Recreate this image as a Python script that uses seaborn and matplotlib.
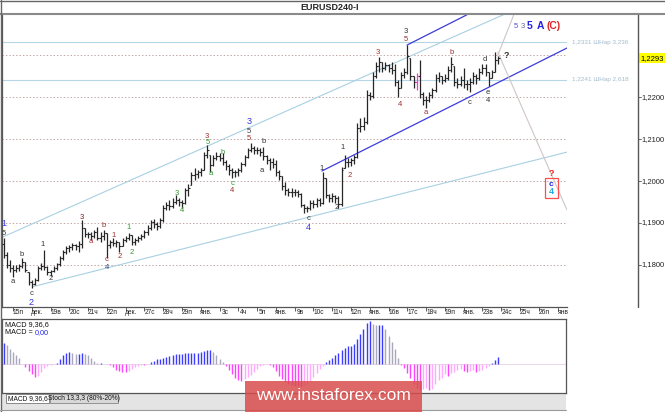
import numpy as np
import pandas as pd
import matplotlib
matplotlib.use("Agg")
import matplotlib.pyplot as plt
import matplotlib.transforms as mtrans
from matplotlib.lines import Line2D
from matplotlib.patches import Rectangle
import seaborn as sns

# 4h bars EURUSD
first_open = 1.1850
highs = [1.1864, 1.1831, 1.1812, 1.1800, 1.1800, 1.1802, 1.1817, 1.1807, 1.1783, 1.1764,
         1.1769, 1.1798, 1.1805, 1.1836, 1.1798, 1.1788, 1.1798, 1.1805, 1.1822, 1.1836,
         1.1845, 1.1848, 1.1852, 1.1850, 1.1857, 1.1907, 1.1888, 1.1879, 1.1879, 1.1883,
         1.1891, 1.1879, 1.1883, 1.1876, 1.1860, 1.1864, 1.1860, 1.1855, 1.1864, 1.1869,
         1.1876, 1.1871, 1.1864, 1.1869, 1.1874, 1.1883, 1.1895, 1.1907, 1.1910, 1.1903,
         1.1912, 1.1943, 1.1950, 1.1955, 1.1960, 1.1967, 1.1960, 1.1955, 1.1983, 1.1993,
         1.2021, 1.2031, 1.2026, 1.2031, 1.2069, 1.2086, 1.2062, 1.2062, 1.2069, 1.2067,
         1.2067, 1.2050, 1.2041, 1.2031, 1.2026, 1.2031, 1.2045, 1.2062, 1.2079, 1.2091,
         1.2083, 1.2081, 1.2079, 1.2081, 1.2062, 1.2055, 1.2055, 1.2050, 1.2026, 1.2012,
         1.1998, 1.1983, 1.1983, 1.1981, 1.1979, 1.1971, 1.1945, 1.1940, 1.1955, 1.1955,
         1.1960, 1.1960, 1.2021, 1.2007, 1.1969, 1.1971, 1.1967, 1.1964, 1.2033, 1.2062,
         1.2055, 1.2055, 1.2062, 1.2138, 1.2150, 1.2152, 1.2217, 1.2212, 1.2260, 1.2283,
         1.2295, 1.2283, 1.2283, 1.2279, 1.2283, 1.2279, 1.2241, 1.2260, 1.2269, 1.2324,
         1.2293, 1.2250, 1.2257, 1.2288, 1.2212, 1.2202, 1.2212, 1.2221, 1.2255, 1.2260,
         1.2250, 1.2255, 1.2274, 1.2295, 1.2274, 1.2245, 1.2250, 1.2269, 1.2241, 1.2245,
         1.2260, 1.2255, 1.2269, 1.2279, 1.2279, 1.2260, 1.2264, 1.2307, 1.2298]
lows = [1.1817, 1.1793, 1.1783, 1.1771, 1.1783, 1.1786, 1.1793, 1.1783, 1.1752, 1.1745,
        1.1752, 1.1762, 1.1788, 1.1788, 1.1776, 1.1774, 1.1783, 1.1788, 1.1798, 1.1812,
        1.1826, 1.1831, 1.1836, 1.1836, 1.1831, 1.1841, 1.1867, 1.1864, 1.1860, 1.1864,
        1.1860, 1.1855, 1.1860, 1.1817, 1.1841, 1.1845, 1.1843, 1.1831, 1.1845, 1.1855,
        1.1860, 1.1848, 1.1848, 1.1855, 1.1860, 1.1864, 1.1871, 1.1883, 1.1888, 1.1883,
        1.1888, 1.1903, 1.1931, 1.1931, 1.1936, 1.1945, 1.1940, 1.1936, 1.1945, 1.1964,
        1.1990, 1.2002, 1.2007, 1.2012, 1.2026, 1.2055, 1.2021, 1.2036, 1.2050, 1.2048,
        1.2038, 1.2026, 1.2014, 1.2007, 1.2010, 1.2012, 1.2021, 1.2036, 1.2055, 1.2069,
        1.2064, 1.2064, 1.2060, 1.2050, 1.2041, 1.2026, 1.2031, 1.2012, 1.2002, 1.1979,
        1.1967, 1.1964, 1.1962, 1.1964, 1.1962, 1.1938, 1.1924, 1.1926, 1.1931, 1.1936,
        1.1938, 1.1940, 1.1945, 1.1960, 1.1950, 1.1950, 1.1948, 1.1936, 1.1940, 1.2031,
        1.2033, 1.2036, 1.2041, 1.2055, 1.2117, 1.2121, 1.2136, 1.2193, 1.2198, 1.2245,
        1.2260, 1.2260, 1.2264, 1.2260, 1.2255, 1.2226, 1.2200, 1.2221, 1.2245, 1.2255,
        1.2241, 1.2221, 1.2217, 1.2198, 1.2181, 1.2174, 1.2188, 1.2198, 1.2212, 1.2236,
        1.2231, 1.2236, 1.2241, 1.2260, 1.2226, 1.2221, 1.2226, 1.2221, 1.2217, 1.2212,
        1.2231, 1.2231, 1.2241, 1.2255, 1.2250, 1.2226, 1.2245, 1.2260, 1.2279]
closes = [1.1824, 1.1800, 1.1793, 1.1788, 1.1793, 1.1798, 1.1807, 1.1788, 1.1760, 1.1755,
          1.1764, 1.1793, 1.1798, 1.1795, 1.1783, 1.1786, 1.1793, 1.1802, 1.1817, 1.1831,
          1.1841, 1.1843, 1.1848, 1.1845, 1.1850, 1.1888, 1.1874, 1.1874, 1.1869, 1.1879,
          1.1864, 1.1869, 1.1876, 1.1848, 1.1855, 1.1852, 1.1855, 1.1845, 1.1860, 1.1864,
          1.1871, 1.1855, 1.1860, 1.1864, 1.1869, 1.1879, 1.1888, 1.1903, 1.1898, 1.1893,
          1.1907, 1.1936, 1.1943, 1.1940, 1.1950, 1.1955, 1.1950, 1.1948, 1.1979, 1.1983,
          1.2014, 1.2017, 1.2021, 1.2026, 1.2062, 1.2074, 1.2038, 1.2055, 1.2060, 1.2055,
          1.2045, 1.2036, 1.2026, 1.2021, 1.2021, 1.2026, 1.2041, 1.2057, 1.2074, 1.2079,
          1.2074, 1.2074, 1.2069, 1.2060, 1.2050, 1.2045, 1.2041, 1.2021, 1.2012, 1.1988,
          1.1979, 1.1974, 1.1974, 1.1974, 1.1969, 1.1943, 1.1936, 1.1936, 1.1948, 1.1945,
          1.1955, 1.1948, 1.2007, 1.1967, 1.1960, 1.1964, 1.1960, 1.1945, 1.2026, 1.2045,
          1.2045, 1.2050, 1.2057, 1.2126, 1.2131, 1.2141, 1.2205, 1.2202, 1.2250, 1.2274,
          1.2283, 1.2269, 1.2276, 1.2269, 1.2264, 1.2236, 1.2221, 1.2252, 1.2260, 1.2298,
          1.2250, 1.2236, 1.2250, 1.2207, 1.2193, 1.2193, 1.2205, 1.2217, 1.2245, 1.2250,
          1.2241, 1.2245, 1.2264, 1.2279, 1.2236, 1.2231, 1.2241, 1.2231, 1.2231, 1.2236,
          1.2250, 1.2245, 1.2260, 1.2269, 1.2260, 1.2245, 1.2260, 1.2288, 1.2293]
highlight_bar = 132  # the magenta bar

# MACD 9,36,6 histogram, in points (0.0001)
macd_points = [21, 19, 15, 12, 9, 6, 0, -3, -7, -10,
               -13, -12, -8, -4, -2, -1, 0, 1, 5, 9,
               11, 12, 11, 10, 10, 11, 10, 9, 6, 3,
               1, 1, 0, 0, -1, -3, -6, -7, -8, -8,
               -7, -5, -3, -2, -1, -1, 0, 2, 3, 5,
               5, 6, 7, 8, 9, 10, 10, 10, 11, 11,
               11, 11, 11, 12, 13, 14, 14, 12, 9, 5,
               2, -2, -6, -10, -14, -16, -17, -15, -13, -11,
               -8, -5, -2, -1, 0, -1, -3, -7, -12, -15,
               -18, -20, -21, -22, -22, -22, -21, -20, -17, -13,
               -9, -5, -2, 2, 4, 6, 9, 11, 14, 16,
               18, 18, 20, 25, 30, 35, 41, 43, 40, 39,
               39, 39, 35, 28, 22, 15, 6, -1, -4, -9,
               -14, -20, -24, -26, -25, -24, -26, -25, -20, -16,
               -14, -10, -12, -9, -8, -6, -5, -7, -8, -7,
               -6, -8, -7, -6, -4, -2, 1, 4, 7]

date_labels = ["15п", "дек.", "19в", "20с", "21ч", "22п", "дек.", "27с", "28ч", "29п",
               "янв.", "3с", "4ч", "5п", "янв.", "9в", "10с", "11ч", "12п", "янв.",
               "16в", "17с", "18ч", "19п", "янв.", "23в", "24с", "25ч", "26п", "янв"]
price_ticks = [1.18, 1.19, 1.20, 1.21, 1.22, 1.23]
scale_labels = [1.18, 1.19, 1.20, 1.21, 1.22]  # 1,2300 sits under the price box
last_price = 1.2293
fibo_levels = [1.2331, 1.2241]
fibo_texts = ["1,2331 ШНар 3,236", "1,2241 ШНар 2,618"]

# trend lines: (x0, y0, x1, y1) in bar index / price
light_channel = [(-0.2, 1.1867, 160.2, 1.2398), (9.1, 1.1748, 180.0, 1.2069)]
blue_channel = [(101.7, 1.2024, 180.0, 1.2317), (128.9, 1.2324, 148.0, 1.2396)]
gray_lines = [(157.9, 1.2307, 180.0, 1.1931), (157.9, 1.2300, 163.1, 1.2398)]

BLUE = "#3535e0"
RED = "#a03030"
GREEN = "#2e9a2e"
DARK = "#333333"
wave_labels = [
    (0.0, 1.1900, "1", BLUE, 6.5), (0.0, 1.1876, "5", DARK, 5.5),
    (3.0, 1.1760, "a", DARK, 5.5), (5.9, 1.1824, "b", DARK, 5.5),
    (8.8, 1.1733, "c", DARK, 5.5), (8.8, 1.1711, "2", BLUE, 6.5),
    (12.6, 1.1848, "1", DARK, 5.5), (15.1, 1.1767, "2", DARK, 5.5),
    (25.0, 1.1914, "3", "#772222", 5.5), (28.0, 1.1855, "a", RED, 5.5),
    (32.0, 1.1895, "b", RED, 5.5), (33.0, 1.1812, "c", RED, 5.5),
    (33.0, 1.1793, "4", "#334477", 5.5), (35.0, 1.1871, "1", RED, 5.5),
    (37.0, 1.1821, "2", RED, 5.5), (40.0, 1.1890, "1", GREEN, 5.5),
    (41.0, 1.1831, "2", GREEN, 5.5), (55.4, 1.1971, "3", GREEN, 5.5),
    (57.0, 1.1931, "4", GREEN, 5.5), (65.0, 1.2107, "3", RED, 5.5),
    (65.3, 1.2091, "5", GREEN, 5.5), (66.3, 1.2019, "a", GREEN, 5.5),
    (70.0, 1.2069, "b", GREEN, 5.5), (73.0, 1.1995, "c", GREEN, 5.5),
    (73.0, 1.1978, "4", RED, 5.5), (78.4, 1.2141, "3", BLUE, 6.5),
    (78.4, 1.2118, "5", DARK, 5.5), (78.4, 1.2101, "5", RED, 5.5),
    (83.0, 1.2095, "b", DARK, 5.5), (82.6, 1.2026, "a", DARK, 5.5),
    (97.3, 1.1912, "c", DARK, 5.5), (97.3, 1.1889, "4", BLUE, 6.5),
    (101.7, 1.2031, "1", DARK, 5.5), (106.5, 1.1936, "2", DARK, 5.5),
    (108.4, 1.2079, "1", DARK, 5.5), (110.7, 1.2014, "2", RED, 5.5),
    (119.6, 1.2307, "3", RED, 5.5), (126.7, 1.2183, "4", RED, 5.5),
    (128.6, 1.2356, "3", DARK, 5.5), (128.6, 1.2338, "5", RED, 5.5),
    (135.0, 1.2164, "a", RED, 5.5), (143.0, 1.2307, "b", RED, 5.5),
    (149.0, 1.2188, "c", DARK, 5.5), (153.8, 1.2290, "d", DARK, 5.5),
    (154.8, 1.2212, "e", DARK, 5.5), (154.8, 1.2193, "4", DARK, 5.5),
]

sns.set_theme(style="white")
plt.rcParams['font.family'] = ['Liberation Sans', 'DejaVu Sans']

W, H = 665, 412
def fx(x):
    return x / W
def fy(y):
    return 1 - y / H

fig = plt.figure(figsize=(6.65, 4.12), dpi=100)
fig.patch.set_facecolor("white")

ax = fig.add_axes([fx(2), fy(307), 565 / W, 293 / H])
ax.set_xlim(-0.5, 180)
ax.set_ylim(1.1700, 1.2398)
ax.set_facecolor("white")

n = len(closes)
idx = np.arange(n)
opens = np.clip([first_open] + closes[:-1], lows, highs)
bars = pd.DataFrame({"i": idx, "o": opens, "h": highs, "l": lows, "c": closes})

# grid
for lev in price_ticks:
    ax.axhline(lev, color="#c4a8a8", ls=(0, (1.5, 2)), lw=0.7, zorder=1)
for lev in fibo_levels:
    ax.axhline(lev, color="#b4d6e6", lw=0.8, zorder=1)

# trend lines
for x0, y0, x1, y1 in light_channel:
    sns.lineplot(x=[x0, x1], y=[y0, y1], ax=ax, color="#a8d0e2", lw=0.8, zorder=2)
for x0, y0, x1, y1 in blue_channel:
    sns.lineplot(x=[x0, x1], y=[y0, y1], ax=ax, color="#3c3cdc", lw=0.9, zorder=2)
for x0, y0, x1, y1 in gray_lines:
    sns.lineplot(x=[x0, x1], y=[y0, y1], ax=ax, color="#cfc6c6", lw=0.8, zorder=2)

# OHLC bars
colors = ["#ff33cc" if i == highlight_bar else "#262626" for i in idx]
ax.vlines(bars["i"], bars["l"], bars["h"], colors=colors, lw=0.9, zorder=3)
ax.hlines(bars["o"], bars["i"] - 0.5, bars["i"], colors=colors, lw=0.8, zorder=3)
ax.hlines(bars["c"], bars["i"], bars["i"] + 0.5, colors=colors, lw=0.8, zorder=3)

for x, y, t, c, s in wave_labels:
    ax.text(x, y, t, color=c, fontsize=s, ha="center", va="center", zorder=4)
ax.text(160.5, 1.2298, "?", color="#333333", fontsize=6.5, weight="bold", ha="center", va="center")

# target box
ax.add_patch(Rectangle((173.0, 1.1960), 4.1, 0.0047, fill=False, ec="#ff4d4d", lw=0.9, zorder=4))
ax.text(175.0, 1.2018, "?", color="#ff2020", fontsize=6.5, weight="bold", ha="center", va="center")
ax.text(175.0, 1.1993, "c", color="#2020e0", fontsize=6, weight="bold", ha="center", va="center")
ax.text(175.0, 1.1975, "4", color="#22aadd", fontsize=6.5, weight="bold", ha="center", va="center")

# top wave label
ax.text(163.7, 1.2369, "5", color="#5050dd", fontsize=5.5, ha="center", va="center")
ax.text(166.0, 1.2369, "3", color="#6a6a99", fontsize=5.5, ha="center", va="center")
ax.text(168.0, 1.2369, "5", color="#2525dd", fontsize=7.5, weight="bold", ha="center", va="center")
ax.text(171.4, 1.2369, "A", color="#2525dd", fontsize=7.5, weight="bold", ha="center", va="center")
ax.text(175.8, 1.2369, "(C)", color="#dd2525", fontsize=7.5, weight="bold", ha="center", va="center")

# axes look
ax.set_yticks([])
tick_pos = [3 + 6 * k for k in range(len(date_labels))]
ax.set_xticks(tick_pos)
ax.set_xticklabels([])
ax.tick_params(axis="x", length=3, width=0.6, color="#444444", direction="out", bottom=True)
for side in ["top", "right"]:
    ax.spines[side].set_visible(False)
for side in ["left", "bottom"]:
    ax.spines[side].set_color("#555555")
    ax.spines[side].set_linewidth(0.9)
ax.set_xlabel("")
ax.set_ylabel("")

tx = mtrans.blended_transform_factory(ax.transData, fig.transFigure)
for p, lbl in zip(tick_pos, date_labels):
    ax.text(p + 1.7, fy(309.5), lbl, transform=tx, fontsize=4.8, ha="center", va="top", color="#222222")

ty = mtrans.blended_transform_factory(fig.transFigure, ax.transData)
for lev, txt in zip(fibo_levels, fibo_texts):
    ax.text(fx(572), lev, txt, transform=ty, fontsize=4.6, color="#a2bccc", va="center", ha="left")

# right price scale
fig.add_artist(Line2D([fx(638), fx(638)], [fy(14), fy(307)], color="#555555", lw=1.0))
for lev in price_ticks:
    ax.add_line(Line2D([fx(638), fx(641)], [lev, lev], transform=ty, color="#555555",
                       lw=0.6, clip_on=False))
for lev in scale_labels:
    ax.text(fx(641), lev, f"{lev:.4f}".replace(".", ","), transform=ty, fontsize=5.5,
            color="#222222", va="center", ha="left")
ax.text(fx(640), last_price, f"{last_price:.4f}".replace(".", ","), transform=ty, fontsize=5.5,
        color="black", va="center", ha="left",
        bbox=dict(boxstyle="square,pad=0.2", fc="#ffff00", ec="none"))

# frame and title
fig.add_artist(Line2D([0, 1], [fy(14), fy(14)], color="#8a8a8a", lw=1.5))
fig.add_artist(Line2D([fx(0.5), fx(0.5)], [fy(0), fy(412)], color="#666666", lw=1.0))
fig.add_artist(Line2D([0, 1], [fy(0.5), fy(0.5)], color="#666666", lw=1.0))
fig.text(fx(330), fy(7), "EURUSD240-I", fontsize=6.5, weight="bold", ha="center", va="center")

# MACD pane
m_ax = fig.add_axes([fx(2), fy(393), 564 / W, 74 / H])
m_ax.set_xlim(-0.5, 179.7)
m_ax.set_ylim(-29, 45)
m_ax.set_facecolor("white")
m_cols = []
for i, v in enumerate(macd_points):
    prev = macd_points[i - 1] if i > 0 else v
    if v >= 0:
        m_cols.append("#3c3cff" if v >= prev else "#a8a8bc")
    else:
        m_cols.append("#ff44ff" if v <= prev else "#ffaaff")
m_ax.axhline(0, color="#e8d0e8", lw=0.6, zorder=1)
m_ax.vlines(idx, 0, macd_points, colors=m_cols, lw=1.0, zorder=2)
m_ax.set_xticks([])
m_ax.set_yticks([])
for side in m_ax.spines.values():
    side.set_color("#555555")
    side.set_linewidth(0.9)
fig.text(fx(5), fy(325), "MACD 9,36,6", fontsize=5.2, color="#111111", va="center", ha="left")
macd_eq = fig.text(fx(5), fy(333), "MACD =", fontsize=5.2, color="#111111", va="center", ha="left")
m_ax.annotate("0,00", xy=(1, 0.5), xycoords=macd_eq, xytext=(1.5, 0), textcoords="offset points",
              fontsize=5.2, color="#2525ee", va="center", ha="left", annotation_clip=False)

# tabs
fig.add_artist(Rectangle((fx(2), fy(410)), 564 / W, 17 / H, transform=fig.transFigure,
                         fc="#e4e4e4", ec="none", zorder=0))
fig.add_artist(Line2D([0, fx(566)], [fy(410), fy(410)], color="#9a9a9a", lw=0.8))
fig.add_artist(Rectangle((fx(6), fy(403)), 43 / W, 9 / H, transform=fig.transFigure,
                         fc="white", ec="#777777", lw=0.6))
fig.text(fx(27.5), fy(398.5), "MACD 9,36,6", fontsize=4.8, ha="center", va="center", color="#111111")
fig.add_artist(Rectangle((fx(50), fy(403)), 68 / W, 9 / H, transform=fig.transFigure,
                         fc="#d8d8d8", ec="#888888", lw=0.6))
fig.text(fx(84), fy(398.5), "Stoch 13,3,3 (80%-20%)", fontsize=4.8, ha="center", va="center", color="#111111")

# watermark
fig.add_artist(Rectangle((fx(245), 0), 177 / W, 31 / H, transform=fig.transFigure,
                         fc="#d94c4c", ec="none", alpha=0.85, zorder=10))
fig.text(fx(333.5), fy(396), "www.instaforex.com", fontsize=12.5, color="white",
         ha="center", va="center", zorder=11)

fig.savefig("out.png", dpi=100)
